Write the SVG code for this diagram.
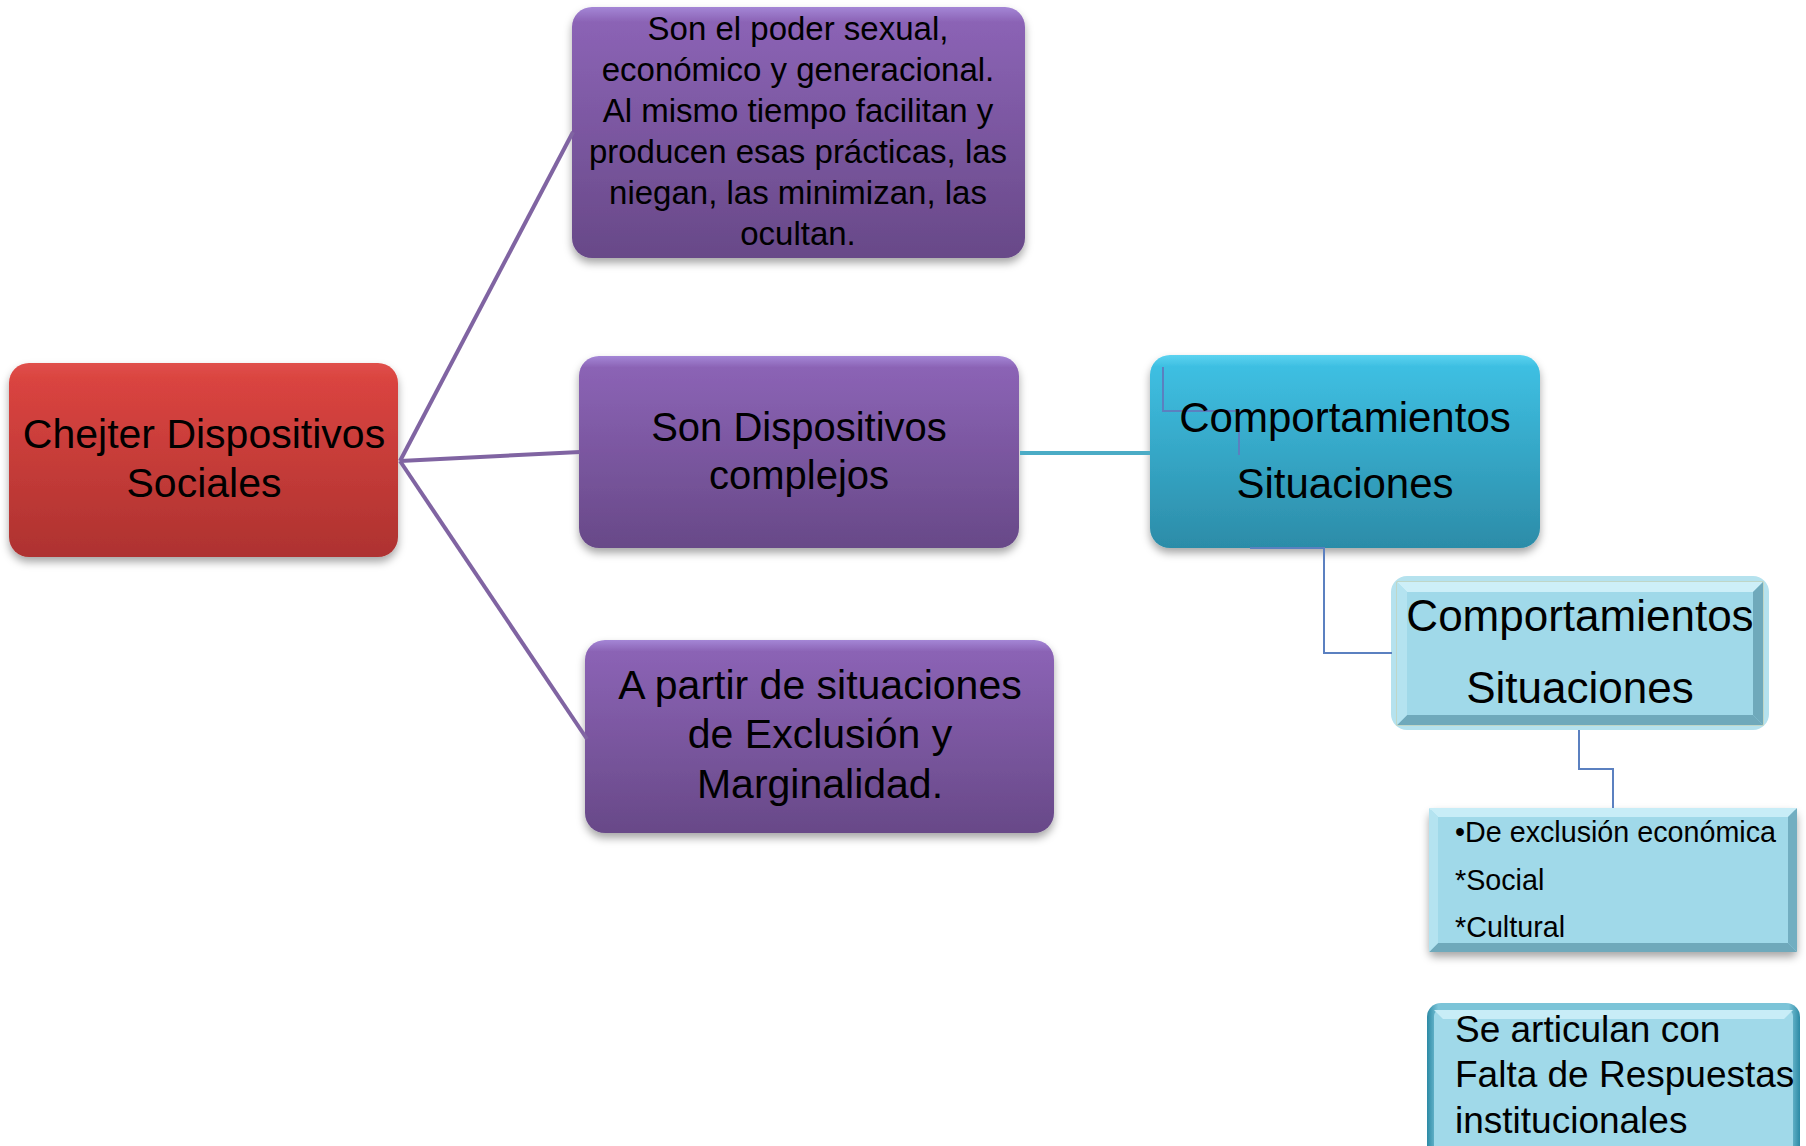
<svg xmlns="http://www.w3.org/2000/svg" width="1806" height="1146" viewBox="0 0 1806 1146">
<style>
.t{font-family:"Liberation Sans",Arial,sans-serif;fill:#000}
.c{text-anchor:middle}
.pl{stroke:#8064A2;stroke-width:4;fill:none}
.cl{stroke:#4BACC6;stroke-width:4;fill:none}
.bl{stroke:#5B80C0;stroke-width:2;fill:none}
</style>
<defs>
<linearGradient id="gRed" x1="0" y1="0" x2="0" y2="1"><stop offset="0" stop-color="#E0504B"/><stop offset="0.08" stop-color="#DA4440"/><stop offset="1" stop-color="#AE3230"/></linearGradient>
<linearGradient id="gPur" x1="0" y1="0" x2="0" y2="1"><stop offset="0" stop-color="#A486D6"/><stop offset="0.06" stop-color="#8B63B5"/><stop offset="1" stop-color="#684988"/></linearGradient>
<linearGradient id="gCy" x1="0" y1="0" x2="0" y2="1"><stop offset="0" stop-color="#5CD3F0"/><stop offset="0.06" stop-color="#3EBFE2"/><stop offset="1" stop-color="#2C8CA8"/></linearGradient>
<linearGradient id="gEdge" x1="0" y1="0" x2="1" y2="0"><stop offset="0" stop-color="#2C8AA5"/><stop offset="0.03" stop-color="#7CC4D8"/><stop offset="0.97" stop-color="#7CC4D8"/><stop offset="1" stop-color="#2C8AA5"/></linearGradient>
<filter id="sh" x="-10%" y="-10%" width="120%" height="130%"><feDropShadow dx="0" dy="5" stdDeviation="4" flood-color="#000" flood-opacity="0.35"/></filter>
</defs>

<g id="node-chejter">
<rect x="9" y="363" width="389" height="194" rx="20" fill="url(#gRed)" filter="url(#sh)"/>
<text class="t c" font-size="41" x="204" y="448">Chejter Dispositivos</text>
<text class="t c" font-size="41" x="204" y="497">Sociales</text>
</g>

<g id="node-poder">
<rect x="572" y="7" width="453" height="251" rx="20" fill="url(#gPur)" filter="url(#sh)"/>
<text class="t c" font-size="33" x="798" y="40">Son el poder sexual,</text>
<text class="t c" font-size="33" x="798" y="81">económico y generacional.</text>
<text class="t c" font-size="33" x="798" y="122">Al mismo tiempo facilitan y</text>
<text class="t c" font-size="33" x="798" y="163">producen esas prácticas, las</text>
<text class="t c" font-size="33" x="798" y="204">niegan, las minimizan, las</text>
<text class="t c" font-size="33" x="798" y="245">ocultan.</text>
</g>

<g id="node-complejos">
<rect x="579" y="356" width="440" height="192" rx="20" fill="url(#gPur)" filter="url(#sh)"/>
<text class="t c" font-size="40" x="799" y="441">Son Dispositivos</text>
<text class="t c" font-size="40" x="799" y="489">complejos</text>
</g>

<g id="node-exclusion">
<rect x="585" y="640" width="469" height="193" rx="20" fill="url(#gPur)" filter="url(#sh)"/>
<text class="t c" font-size="41" x="820" y="699">A partir de situaciones</text>
<text class="t c" font-size="41" x="820" y="748">de Exclusión y</text>
<text class="t c" font-size="41" x="820" y="798">Marginalidad.</text>
</g>

<g id="node-comport1">
<rect x="1150" y="355" width="390" height="193" rx="20" fill="url(#gCy)" filter="url(#sh)"/>
<polyline class="bl" points="1163,367 1163,411 1239,411 1239,455"/>
<text class="t c" font-size="42" x="1345" y="432">Comportamientos</text>
<text class="t c" font-size="42" x="1345" y="498">Situaciones</text>
</g>

<g id="node-comport2">
<rect x="1391" y="576" width="378" height="154" rx="16" fill="#B5E2EE"/>
<rect x="1397" y="582" width="366" height="143" fill="#A0D9E9" stroke="#C9C9A0" stroke-width="1"/>
<polygon points="1397,582 1763,582 1753,592 1407,592" fill="#CDEFF8"/>
<polygon points="1397,725 1763,725 1753,715 1407,715" fill="#6FA9BB"/>
<polygon points="1397,582 1407,592 1407,715 1397,725" fill="#B4E3F0"/>
<polygon points="1763,582 1753,592 1753,715 1763,725" fill="#6FA9BB"/>
<text class="t c" font-size="44" x="1580" y="631">Comportamientos</text>
<text class="t c" font-size="44" x="1580" y="703">Situaciones</text>
</g>

<g id="node-lista">
<rect x="1429" y="808" width="368" height="144" rx="6" fill="#A0D9E9" filter="url(#sh)"/>
<polygon points="1429,808 1797,808 1788,817 1438,817" fill="#C8EDF7"/>
<polygon points="1429,952 1797,952 1788,943 1438,943" fill="#6FA9BB"/>
<polygon points="1429,808 1438,817 1438,943 1429,952" fill="#B4E3F0"/>
<polygon points="1797,808 1788,817 1788,943 1797,952" fill="#72AEC1"/>
<text class="t" font-size="28.7" x="1455" y="842">•De exclusión económica</text>
<text class="t" font-size="28.7" x="1455" y="890">*Social</text>
<text class="t" font-size="28.7" x="1455" y="937">*Cultural</text>
</g>

<g id="node-articulan">
<rect x="1427" y="1003" width="373" height="170" rx="14" fill="url(#gEdge)"/>
<rect x="1434" y="1010" width="359" height="160" rx="6" fill="#A0D9E9"/>
<polygon points="1434,1010 1793,1010 1784,1019 1443,1019" fill="#C8EDF7"/>
<text class="t" font-size="37" x="1455" y="1042">Se articulan con</text>
<text class="t" font-size="37" x="1455" y="1087">Falta de Respuestas</text>
<text class="t" font-size="37" x="1455" y="1133">institucionales</text>
</g>

<g id="connectors">
<line class="pl" x1="400" y1="461" x2="573" y2="132"/>
<line class="pl" x1="400" y1="461" x2="580" y2="452"/>
<line class="pl" x1="400" y1="461" x2="587" y2="739"/>
<line class="cl" x1="1020" y1="453" x2="1150" y2="453"/>
<polyline class="bl" points="1250,548 1324,548 1324,653 1392,653"/>
<polyline class="bl" points="1579,730 1579,769 1613,769 1613,808"/>
</g>
</svg>
